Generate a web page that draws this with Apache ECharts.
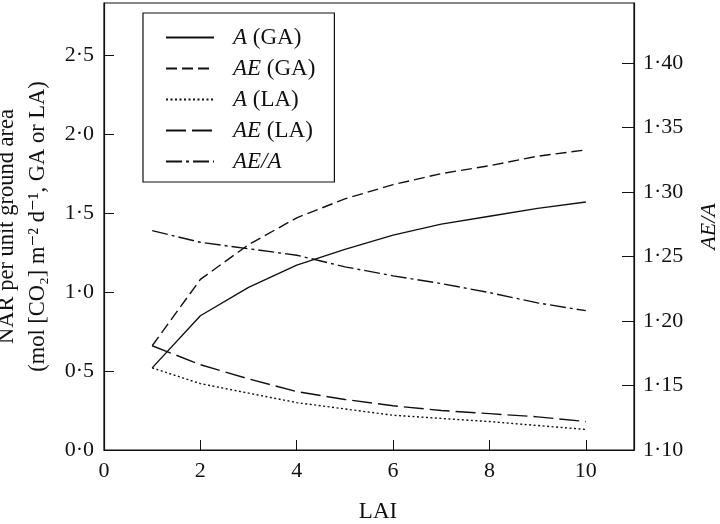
<!DOCTYPE html>
<html>
<head>
<meta charset="utf-8">
<script src="https://cdn.jsdelivr.net/npm/echarts@6/dist/echarts.min.js"></script>
<style>
  html, body { margin: 0; padding: 0; background: #fff; }
  #chart { width: 720px; height: 524px; }
</style>
</head>
<body>
<div id="chart"></div>
<script>
// LAI values (x axis)
const lai = [1, 2, 3, 4, 5, 6, 7, 8, 9, 10]

// NAR series, left axis
const aGA = [0.52, 0.85, 1.03, 1.17, 1.27, 1.36, 1.43, 1.48, 1.53, 1.57]
const aeGA = [0.66, 1.08, 1.30, 1.47, 1.59, 1.68, 1.75, 1.80, 1.86, 1.90]
const aLA = [0.52, 0.42, 0.36, 0.30, 0.26, 0.22, 0.20, 0.18, 0.155, 0.13]
const aeLA = [0.66, 0.54, 0.45, 0.37, 0.32, 0.28, 0.25, 0.23, 0.21, 0.18]

// AE/A ratio, right axis
const aeOverA = [1.270, 1.261, 1.256, 1.251, 1.242, 1.235, 1.229, 1.222, 1.214, 1.208]

const seriesNames = ['A (GA)', 'AE (GA)', 'A (LA)', 'AE (LA)', 'AE/A']
const legendLabels = {
  'A (GA)': '{i|A} (GA)',
  'AE (GA)': '{i|AE} (GA)',
  'A (LA)': '{i|A} (LA)',
  'AE (LA)': '{i|AE} (LA)',
  'AE/A': '{i|AE/A}',
}

const serif = '"Liberation Serif", "DejaVu Serif", serif'
const dot = (v, n) => v.toFixed(n).replace('.', '\u00b7')
const pairs = ys => lai.map((x, i) => [x, ys[i]])

const lineSeries = (name, ys, dash, yAxisIndex) => ({
  name,
  type: 'line',
  yAxisIndex,
  symbol: 'none',
  silent: true,
  color: '#111',
  lineStyle: { color: '#111', width: 1.4, type: dash },
  data: pairs(ys),
})

const chart = echarts.init(document.getElementById('chart'), null, { renderer: 'canvas' })

const option = {
  animation: false,
  backgroundColor: '#fff',
  textStyle: { fontFamily: serif, color: '#111' },
  grid: {
    left: 104, right: 86, top: 3, bottom: 74,
    containLabel: false,
    outerBoundsMode: 'none',
    show: true, borderColor: '#111', borderWidth: 1.2,
  },
  legend: {
    data: seriesNames,
    orient: 'vertical',
    left: 143,
    top: 13,
    padding: [13, 19, 9, 22],
    itemWidth: 48,
    itemHeight: 14,
    itemGap: 8,
    borderColor: '#111',
    borderWidth: 1.2,
    backgroundColor: '#fff',
    itemStyle: { opacity: 0 },
    formatter: name => legendLabels[name],
    textStyle: {
      fontFamily: serif, fontSize: 23, lineHeight: 23, color: '#111', padding: [0, 0, 0, 14],
      rich: { i: { fontFamily: serif, fontSize: 23, lineHeight: 23, fontStyle: 'italic', color: '#111' } },
    },
  },
  xAxis: {
    type: 'value',
    min: 0, max: 11, interval: 2,
    name: 'LAI',
    nameLocation: 'middle',
    nameGap: 50,
    nameTextStyle: { fontFamily: serif, fontSize: 23, color: '#111', padding: [0, 0, 0, 18] },
    axisLine: { lineStyle: { color: '#111', width: 1.2 } },
    axisTick: { inside: true, length: 10, lineStyle: { color: '#111' } },
    axisLabel: { showMaxLabel: false, fontFamily: serif, fontSize: 22, color: '#111', margin: 10 },
    splitLine: { show: false },
  },
  yAxis: [
    {
      type: 'value',
      min: 0, max: 2.83, interval: 0.5,
      name: 'NAR per unit ground area\n(mol [CO\u2082] m\u207b\u00b2 d\u207b\u00b9, GA or LA)',
      nameLocation: 'middle',
      nameGap: 39,
      nameRotate: 90,
      nameTextStyle: { fontFamily: serif, fontSize: 22.5, color: '#111', lineHeight: 31 },
      axisLine: { show: true, lineStyle: { color: '#111', width: 1.2 } },
      axisTick: { show: true, inside: true, length: 10, lineStyle: { color: '#111' } },
      axisLabel: { showMaxLabel: false, fontFamily: serif, fontSize: 22, color: '#111', margin: 10, formatter: v => dot(v, 1) },
      splitLine: { show: false },
    },
    {
      type: 'value',
      position: 'right',
      min: 1.10, max: 1.4465, interval: 0.05,
      name: 'AE/A',
      nameLocation: 'middle',
      nameGap: 64,
      nameRotate: 90,
      nameTextStyle: { fontFamily: serif, fontSize: 22, fontStyle: 'italic', color: '#111' },
      axisLine: { show: true, lineStyle: { color: '#111', width: 1.2 } },
      axisTick: { show: true, inside: true, length: 12, lineStyle: { color: '#111' } },
      axisLabel: { showMaxLabel: false, fontFamily: serif, fontSize: 22, color: '#111', margin: 9, formatter: v => dot(v, 2) },
      splitLine: { show: false },
    },
  ],
  series: [
    lineSeries('A (GA)', aGA, 'solid', 0),
    lineSeries('AE (GA)', aeGA, [11, 5], 0),
    lineSeries('A (LA)', aLA, [2, 2.5], 0),
    lineSeries('AE (LA)', aeLA, [20, 6], 0),
    lineSeries('AE/A', aeOverA, [16, 4, 3, 4], 1),
  ],
}

chart.setOption(option)
window.onresize = chart.resize
</script>
</body>
</html>
